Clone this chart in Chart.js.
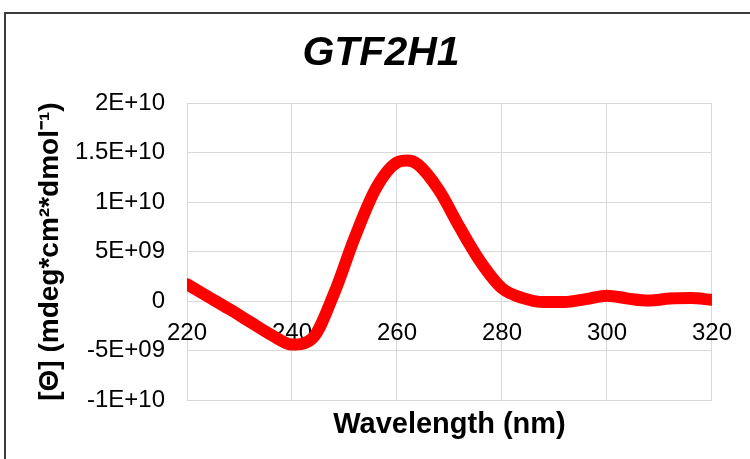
<!DOCTYPE html>
<html>
<head>
<meta charset="utf-8">
<script src="https://cdn.jsdelivr.net/npm/chart.js@4/dist/chart.umd.min.js"></script>
<style>
    body { margin: 0; background: #fff; }
    #frame {
        position: absolute; left: 4px; top: 12px; width: 800px; height: 500px;
        border-left: 2px solid #3c3c3c; border-top: 2px solid #3c3c3c;
    }
    #chart { position: absolute; left: 0; top: 0; }
</style>
</head>
<body>
<div id="frame"></div>
<canvas id="chart" width="750" height="459"></canvas>
<script>
const wavelengths = [220, 224, 228, 232, 236, 240, 244, 248, 252, 256, 260, 262, 264, 268,
    272, 276, 280, 284, 288, 292, 296, 300, 304, 308, 312, 316, 320]
// ellipticity in units of 1E+09
const theta = [1.7, 0.45, -0.8, -2.1, -3.4, -4.4, -3.7, 0.75, 6.5, 11.4, 14.0, 14.2, 13.8, 11.2,
    7.4, 3.9, 1.3, 0.3, -0.1, -0.1, 0.2, 0.55, 0.25, 0.05, 0.25, 0.3, 0.13]
const xTicks = [220, 240, 260, 280, 300, 320]
const yTicks = [-1e10, -5e9, 0, 5e9, 1e10, 1.5e10, 2e10]

const fontFamily = "'Liberation Sans', Arial, sans-serif"
const gridColor = '#d9d9d9'

function sciLabel(value) {
    if (value === 0) return '0'
    const exp = Math.floor(Math.log10(Math.abs(value)))
    const mant = +(value / Math.pow(10, exp)).toFixed(2)
    const sign = exp < 0 ? '-' : '+'
    return `${mant}E${sign}${String(Math.abs(exp)).padStart(2, '0')}`
}

const points = wavelengths.map((w, i) => ({ x: w, y: theta[i] * 1e9 }))

const chartOptions = {
    type: 'line',
    data: {
        datasets: [{
            data: points,
            borderColor: '#ff0000',
            borderWidth: 12,
            borderCapStyle: 'round',
            borderJoinStyle: 'round',
            pointRadius: 0,
            cubicInterpolationMode: 'monotone',
            fill: false
        }]
    },
    options: {
        responsive: false,
        animation: false,
        layout: { padding: { left: 48, right: 36, top: 0, bottom: 0 } },
        plugins: {
            legend: { display: false },
            tooltip: { enabled: false },
            title: {
                display: true,
                text: 'GTF2H1',
                color: '#000',
                font: { family: fontFamily, size: 41, weight: 'bold', style: 'italic' },
                padding: { top: 29, bottom: 25 }
            }
        },
        scales: {
            x: {
                type: 'linear',
                min: 220,
                max: 320,
                afterBuildTicks: (scale) => { scale.ticks = xTicks.map(v => ({ value: v })) },
                afterFit: (scale) => { scale.height = 59 },
                ticks: { display: false },
                grid: { color: gridColor, lineWidth: 1, drawTicks: false },
                border: { display: false },
                title: {
                    display: true,
                    text: 'Wavelength (nm)',
                    color: '#000',
                    font: { family: fontFamily, size: 29, weight: 'bold' },
                    padding: { top: 0, bottom: 17 }
                }
            },
            xZero: {
                type: 'linear',
                axis: 'x',
                position: { y: 0 },
                min: 220,
                max: 320,
                afterBuildTicks: (scale) => { scale.ticks = xTicks.map(v => ({ value: v })) },
                afterFit: (scale) => { scale.height = 0 },
                ticks: {
                    color: '#000',
                    font: { family: fontFamily, size: 24 },
                    padding: 18,
                    maxRotation: 0,
                    autoSkip: false
                },
                grid: { display: false, drawTicks: false },
                border: { display: false }
            },
            y: {
                min: -1e10,
                max: 2e10,
                afterBuildTicks: (scale) => { scale.ticks = yTicks.map(v => ({ value: v })) },
                afterFit: (scale) => { scale.width = 139 },
                ticks: {
                    color: '#000',
                    font: { family: fontFamily, size: 24 },
                    padding: 22,
                    callback: (value) => sciLabel(value)
                },
                grid: { color: gridColor, lineWidth: 1, drawTicks: false },
                border: { display: false },
                title: {
                    display: true,
                    text: '[\u0398] (mdeg*cm\u00b2*dmol\u207b\u00b9)',
                    color: '#000',
                    font: { family: fontFamily, size: 28, weight: 'bold' },
                    padding: { top: -15, bottom: 0 }
                }
            }
        }
    }
}

new Chart(document.getElementById('chart'), chartOptions)
</script>
</body>
</html>
